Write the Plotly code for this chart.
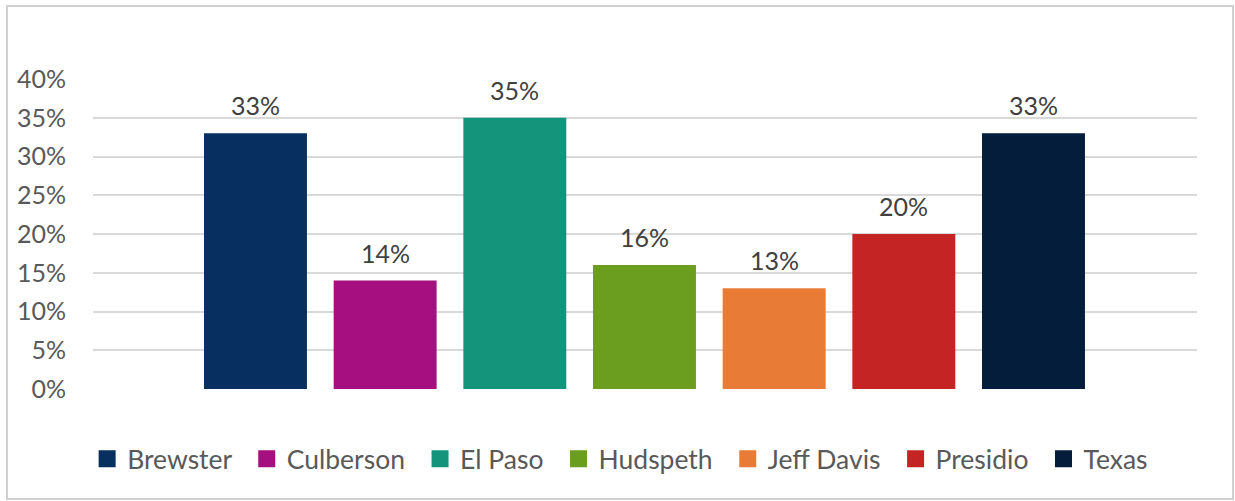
import plotly.graph_objects as go

# Share of population by county, with the state figure for comparison
counties = ["Brewster", "Culberson", "El Paso", "Hudspeth", "Jeff Davis", "Presidio", "Texas"]
shares = [0.33, 0.14, 0.35, 0.16, 0.13, 0.20, 0.33]
colors = ["#072F5F", "#A50F80", "#14957B", "#6B9E1F", "#E87C37", "#C42424", "#041D3B"]
y_ticks = [0, 0.05, 0.10, 0.15, 0.20, 0.25, 0.30, 0.35, 0.40]
y_tick_labels = ["0%", "5%", "10%", "15%", "20%", "25%", "30%", "35%", "40%"]

FONT = "Lato"
TEXT_GREY = "#595959"
LABEL_GREY = "#404040"
GRID = "#D9D9D9"

fig = go.Figure()
for i, (name, val, col) in enumerate(zip(counties, shares, colors)):
    # the bar itself (legend entry drawn by a companion trace with a larger swatch)
    fig.add_trace(go.Bar(
        x=[i], y=[val], name=name, legendgroup=name, showlegend=False,
        marker=dict(color=col, line=dict(width=0)),
        width=0.794,
    ))
    fig.add_trace(go.Bar(
        x=[None], y=[None], name=name + "\u00a0\u2009", legendgroup=name,
        marker=dict(color=col, line=dict(color=col, width=5)),
    ))
    fig.add_annotation(
        x=i, y=val, text=f"{val:.0%}", showarrow=False,
        yanchor="middle", yshift=28,
        font=dict(family=FONT, size=25, color=LABEL_GREY),
    )

# light frame around the whole chart
fig.add_shape(
    type="rect", xref="paper", yref="paper",
    x0=-0.0779, x1=1.0326, y0=-0.3548, y1=1.2355,
    line=dict(color="#D0D0D0", width=2), layer="below",
)

fig.update_layout(
    width=1235, height=501,
    margin=dict(l=93, r=38, t=79, b=112),
    paper_bgcolor="white", plot_bgcolor="white",
    barmode="overlay",
    showlegend=True,
    legend=dict(
        orientation="h", x=0.482, xanchor="center", y=-0.2258, yanchor="middle",
        font=dict(family=FONT, size=26.5, color=TEXT_GREY),
        bgcolor="rgba(0,0,0,0)",
    ),
    font=dict(family=FONT, color=TEXT_GREY),
)
fig.update_xaxes(
    range=[-1.253, 7.261], showticklabels=False, showgrid=False,
    zeroline=False, showline=False, ticks="",
)
fig.update_yaxes(
    range=[0, 0.40], tickvals=y_ticks, ticktext=y_tick_labels,
    showgrid=True, gridcolor=GRID, gridwidth=2,
    zeroline=False, showline=False, ticks="",
    tickfont=dict(family=FONT, size=25, color=TEXT_GREY),
    ticklabelstandoff=26,
)

fig.write_html("out.html")
